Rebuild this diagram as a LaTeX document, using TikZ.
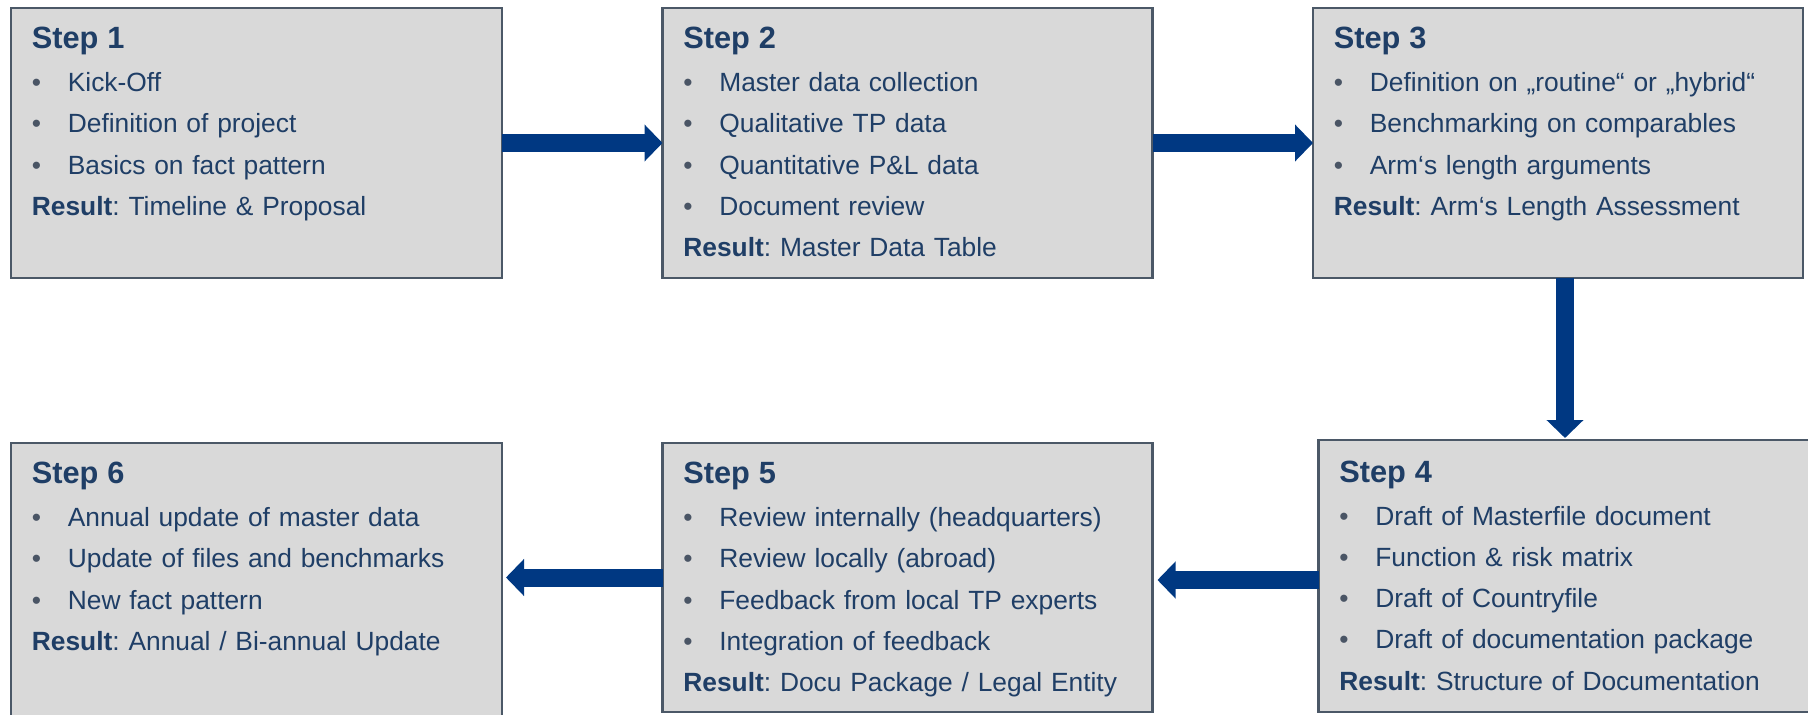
\documentclass[tikz,border=0pt]{standalone}
\usepackage{fontspec}
\setmainfont{Liberation Sans}
\usetikzlibrary{arrows.meta,calc}
\definecolor{BoxFill}{HTML}{D9D9D9}
\definecolor{BoxLine}{HTML}{4B5867}
\definecolor{TxtClr}{HTML}{1F3E66}
\definecolor{BulClr}{HTML}{4A5565}
\definecolor{ArrClr}{HTML}{003882}
\frenchspacing
\newcommand{\bitem}[1]{\makebox[0.72cm][l]{\color{BulClr}\textbullet}#1}
\newcommand{\steptitle}[1]{{\fontsize{17.5}{23.5}\selectfont\bfseries #1}}

\begin{document}
\begin{tikzpicture}[
  stepbox/.style={draw=BoxLine,fill=BoxFill,line width=1.5pt,anchor=north west,
    outer sep=0pt,inner sep=0pt,minimum width=9.8cm,minimum height=5.4cm},
  steptext/.style={anchor=base west,inner sep=0pt,text width=9.2cm,align=left,
    text=TxtClr,font=\fontsize{15}{23.5}\selectfont},
  flow/.style={draw=ArrClr,line width=0.36cm,-{Triangle[width=0.72cm,length=0.36cm]}}]
\useasboundingbox (0,0) rectangle (36.16,14.28);

% the six steps
\node[stepbox,minimum width=9.82cm] (s1) at (0.22,14.12) {};
\node[stepbox] (s2) at (13.25,14.12) {};
\node[stepbox] (s3) at (26.26,14.12) {};
\node[stepbox,minimum width=9.9cm,minimum height=5.44cm] (s4) at (26.37,5.48) {};
\node[stepbox,minimum height=5.38cm] (s5) at (13.25,5.42) {};
\node[stepbox,minimum width=9.82cm,minimum height=5.6cm] (s6) at (0.22,5.42) {};

\node[steptext] (t1) at ([xshift=0.41cm,yshift=-0.81cm]s1.north west)
  {\steptitle{Step 1}\\[1pt]
   \bitem{Kick-Off}\\
   \bitem{Definition of project}\\
   \bitem{Basics on fact pattern}\\
   \textbf{Result}: Timeline \& Proposal};
\node[steptext] (t2) at ([xshift=0.41cm,yshift=-0.81cm]s2.north west)
  {\steptitle{Step 2}\\[1pt]
   \bitem{Master data collection}\\
   \bitem{Qualitative TP data}\\
   \bitem{Quantitative P\&L data}\\
   \bitem{Document review}\\
   \textbf{Result}: Master Data Table};
\node[steptext] (t3) at ([xshift=0.41cm,yshift=-0.81cm]s3.north west)
  {\steptitle{Step 3}\\[1pt]
   \bitem{Definition on „routine“ or „hybrid“}\\
   \bitem{Benchmarking on comparables}\\
   \bitem{Arm‘s length arguments}\\
   \textbf{Result}: Arm‘s Length Assessment};
\node[steptext] (t4) at ([xshift=0.41cm,yshift=-0.84cm]s4.north west)
  {\steptitle{Step 4}\\[1pt]
   \bitem{Draft of Masterfile document}\\
   \bitem{Function \& risk matrix}\\
   \bitem{Draft of Countryfile}\\
   \bitem{Draft of documentation package}\\
   \textbf{Result}: Structure of Documentation};
\node[steptext] (t5) at ([xshift=0.41cm,yshift=-0.81cm]s5.north west)
  {\steptitle{Step 5}\\[1pt]
   \bitem{Review internally (headquarters)}\\
   \bitem{Review locally (abroad)}\\
   \bitem{Feedback from local TP experts}\\
   \bitem{Integration of feedback}\\
   \textbf{Result}: Docu Package / Legal Entity};
\node[steptext] (t6) at ([xshift=0.41cm,yshift=-0.81cm]s6.north west)
  {\steptitle{Step 6}\\[1pt]
   \bitem{Annual update of master data}\\
   \bitem{Update of files and benchmarks}\\
   \bitem{New fact pattern}\\
   \textbf{Result}: Annual / Bi-annual Update};

% arrows
\draw[flow] (s1.east) -- (s2.west);
\draw[flow] (s2.east) -- (s3.west);
\draw[flow,shorten >=0.04cm] ([xshift=0.14cm]s3.south) -- ([xshift=0.14cm]s3.south |- s4.north);
\draw[flow,shorten >=0.1cm] ([yshift=-0.08cm]s4.west) -- ([yshift=-0.08cm]s4.west -| s5.east);
\draw[flow,shorten >=0.08cm] (s5.west) -- (s5.west -| s6.east);

\end{tikzpicture}
\end{document}
